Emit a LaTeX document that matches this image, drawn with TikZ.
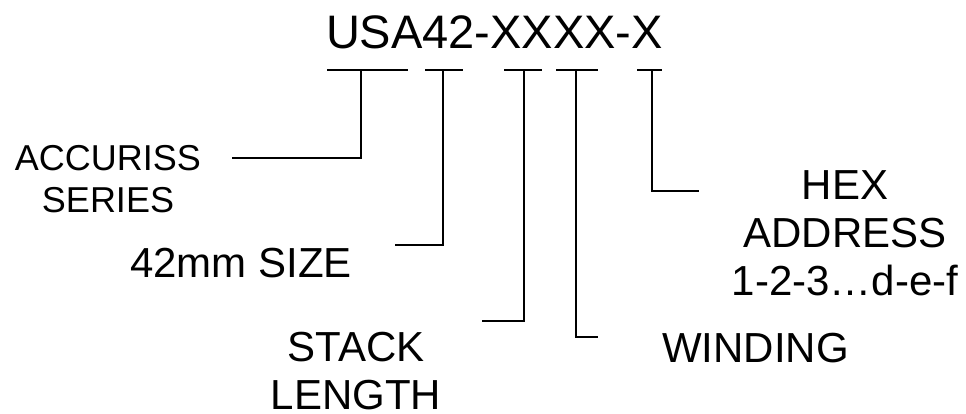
\documentclass[tikz,border=0pt]{standalone}
\usepackage{fontspec}
\setmainfont{Liberation Sans}
\begin{document}
\begin{tikzpicture}[x=1pt,y=-1pt,
  lbl/.style={inner sep=0pt,anchor=base,align=center,font=\fontsize{42}{48}\selectfont},
  lead/.style={line width=2pt,black},
  bar/.style={line width=2pt,black}]
\useasboundingbox[fill=white] (0,0) rectangle (966,413);
% title
\node[inner sep=0pt,anchor=base,font=\fontsize{47}{54}\selectfont] (title) at (494.5,48) {USA42-XXXX-X};
% labels (base anchor = baseline of last line)
\node[lbl,font=\fontsize{36}{42}\selectfont] (acc) at (108,212) {ACCURISS\\SERIES};
\node[lbl] (size) at (241,277) {42mm SIZE};
\node[lbl] (stack) at (356,409) {STACK\\LENGTH};
\node[lbl] (wind) at (755.5,362) {WINDING};
\node[lbl] (hex) at (845,295) {HEX\\ADDRESS\\1-2-3…d-e-f};
% bar coordinates
\coordinate (b1l) at (327,70); \coordinate (b1r) at (408,70); \coordinate (t1) at (361,70);
\coordinate (b2l) at (425,70); \coordinate (b2r) at (463,70); \coordinate (t2) at (443,70);
\coordinate (b3l) at (504,70); \coordinate (b3r) at (542,70); \coordinate (t3) at (524,70);
\coordinate (b4l) at (556,70); \coordinate (b4r) at (598,70); \coordinate (t4) at (576,70);
\coordinate (b5l) at (637,70); \coordinate (b5r) at (662,70); \coordinate (t5) at (652,70);
% free ends
\coordinate (e1) at (232,158);
\coordinate (e2) at (395,245);
\coordinate (e3) at (482,321);
\coordinate (e4) at (598,337);
\coordinate (e5) at (699,191);
% bars
\foreach \i in {1,...,5}{\draw[bar] (b\i l) -- (b\i r);}
% leaders
\foreach \i in {1,...,5}{\draw[lead] (t\i) |- (e\i);}
\end{tikzpicture}
\end{document}
